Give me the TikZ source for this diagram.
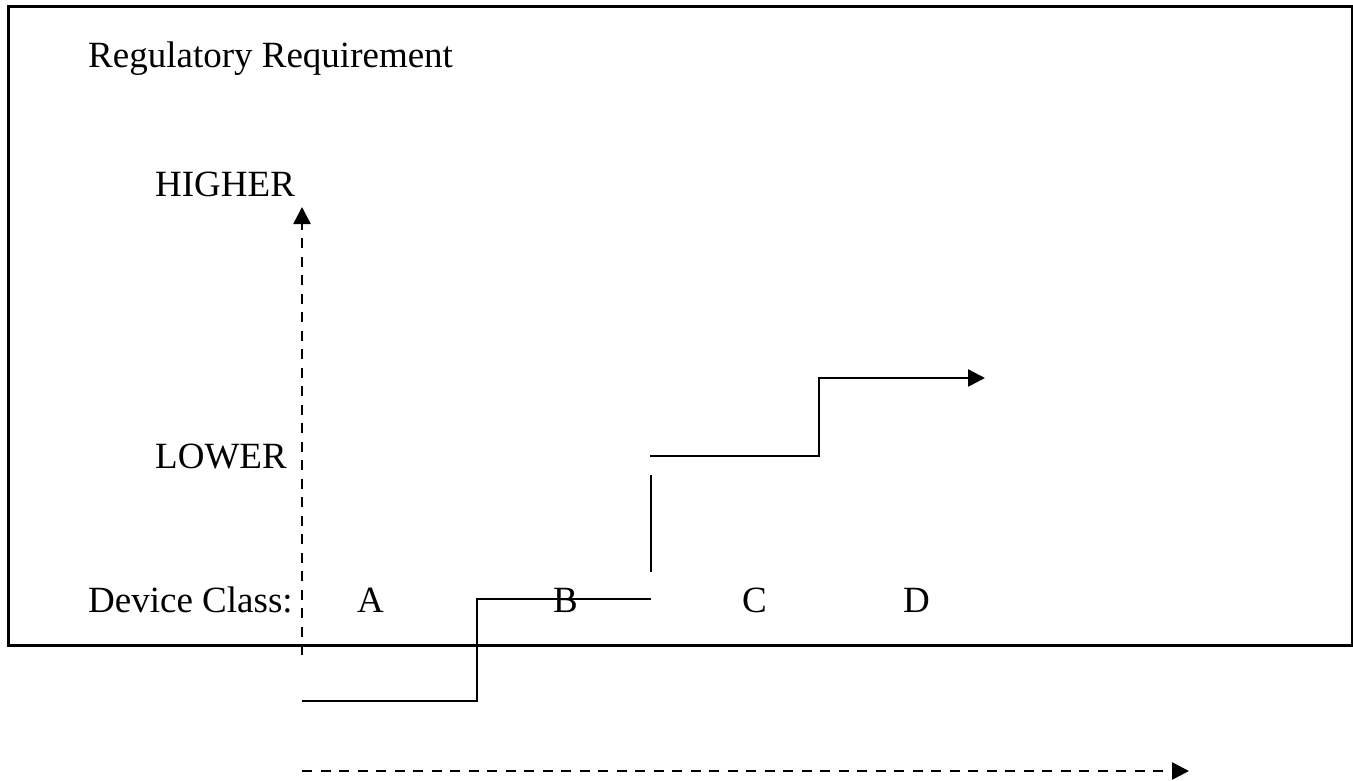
\documentclass[tikz,border=0pt]{standalone}
\usepackage{fontspec}
\setmainfont{Liberation Serif}
\usetikzlibrary{arrows.meta}
\begin{document}
\begin{tikzpicture}[x=1pt,y=-1pt,
  lbl/.style={anchor=base west,inner sep=0pt,font=\fontsize{37}{40}\selectfont},
  ln/.style={line width=2.5pt,line cap=butt},
  dsh/.style={ln,dash pattern=on 10pt off 8.5pt},
  tip/.style={-{Triangle[length=17pt,width=17pt]}}]
\useasboundingbox (0,0) rectangle (1353,780);
\node[draw,line width=2.5pt,minimum width=1344pt,minimum height=639pt,anchor=north west,inner sep=0pt] (frame) at (7,5) {};
\node[lbl] (title) at (88,67) {Regulatory Requirement};
\node[lbl] (hi) at (155,196) {HIGHER};
\node[lbl] (lo) at (155,468) {LOWER};
\node[lbl] (dc) at (88,612) {Device Class:};
\node[lbl] (a) at (357,612) {A};
\node[lbl] (b) at (553,612) {B};
\node[lbl] (c) at (742,612) {C};
\node[lbl] (d) at (903,612) {D};
\coordinate (v0) at (302,655);
\coordinate (v1) at (302,207);
\coordinate (h0) at (302,771);
\coordinate (h1) at (1189,771);
\draw[dsh,tip] (v0) -- (v1);
\draw[dsh,tip] (h0) -- (h1);
\coordinate (s0) at (302,701);
\coordinate (s1) at (477,701);
\coordinate (s2) at (477,599);
\coordinate (s3) at (651,599);
\draw[ln] (s0) -- (s1) -- (s2) -- (s3);
\coordinate (t0) at (651,572);
\coordinate (t1) at (651,475);
\draw[ln] (t0) -- (t1);
\coordinate (u0) at (650,456);
\coordinate (u1) at (819,456);
\coordinate (u2) at (819,378);
\coordinate (u3) at (985,378);
\draw[ln,tip] (u0) -- (u1) -- (u2) -- (u3);
\end{tikzpicture}
\end{document}
